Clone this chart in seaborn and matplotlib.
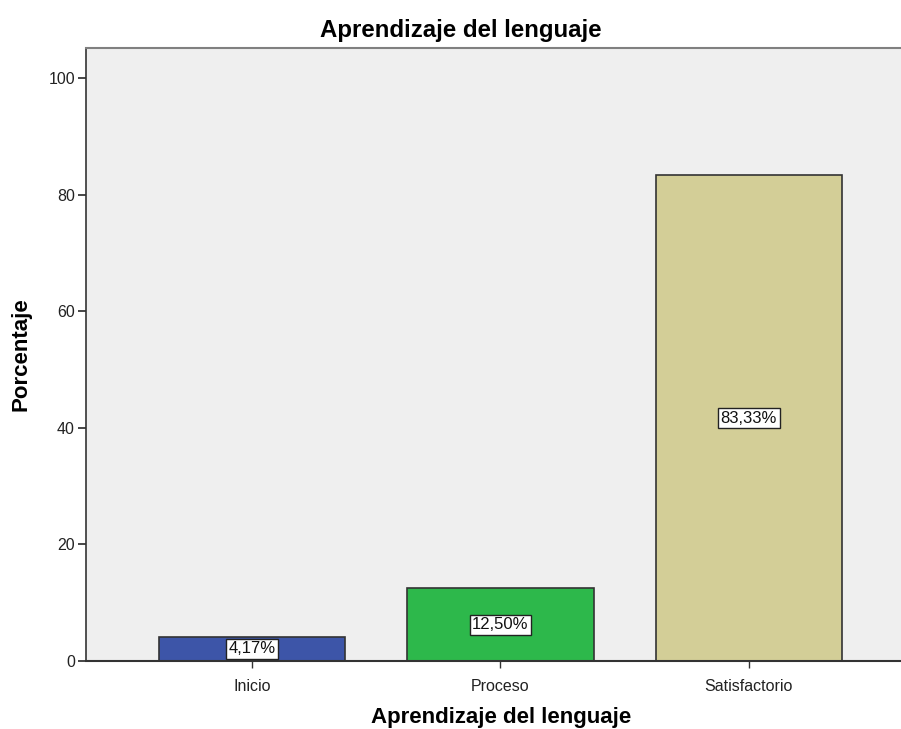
import matplotlib
matplotlib.use("Agg")
import matplotlib.pyplot as plt
import seaborn as sns
import pandas as pd

categories = ["Inicio", "Proceso", "Satisfactorio"]
values = [4.17, 12.50, 83.33]
labels = ["4,17%", "12,50%", "83,33%"]
colors = ["#3D55A8", "#2DB84B", "#D3CE97"]
yticks = [0, 20, 40, 60, 80, 100]

sns.set_theme(style="white")
plt.rcParams['font.family'] = ['Liberation Sans', 'DejaVu Sans']

df = pd.DataFrame({"cat": categories, "val": values})

fig = plt.figure(figsize=(9.01, 7.29), dpi=100)
ax = fig.add_axes([86/901, (729-661)/729, (901-86)/901, (661-48)/729])
ax.set_facecolor("#EFEFEF")

sns.barplot(data=df, x="cat", y="val", hue="cat", palette=colors, order=categories,
            width=0.75, edgecolor="#333333", linewidth=1.2, legend=False, ax=ax, saturation=1)

for i, (v, lab) in enumerate(zip(values, labels)):
    ax.text(i, v/2, lab, ha="center", va="center", fontsize=12, color="#111111",
            bbox=dict(boxstyle="square,pad=0.15", fc="white", ec="#222222", lw=1))

ax.set_xlim(-0.668, 2.612)
ax.set_ylim(0, 105.2)
ax.set_yticks(yticks)
ax.set_yticklabels([str(t) for t in yticks], fontsize=11.5, color="#222222")
ax.tick_params(axis="x", labelsize=11.5, colors="#333333", length=5, width=1, direction="out", bottom=True, pad=8)
ax.tick_params(axis="y", length=6, width=1.2, direction="out", left=True, pad=2)
for t in ax.get_xticklabels():
    t.set_color("#222222")

ax.spines["right"].set_visible(False)
ax.spines["left"].set_color("#333333")
ax.spines["left"].set_linewidth(1.2)
ax.spines["bottom"].set_color("#333333")
ax.spines["bottom"].set_linewidth(1.5)
ax.spines["top"].set_color("#808080")
ax.spines["top"].set_linewidth(1.5)

fig.text(461/901, 1 - 30/729, "Aprendizaje del lenguaje", fontsize=17.3, fontweight="bold",
         ha="center", va="center", color="#000000")
ax.set_xlabel("Aprendizaje del lenguaje", fontsize=16, fontweight="bold", color="#000000")
ax.xaxis.set_label_coords((501 - 86) / 815, -(718 - 661) / 613, transform=ax.transAxes)
ax.xaxis.label.set_va("center")
ax.set_ylabel("Porcentaje", fontsize=16, fontweight="bold", labelpad=12, color="#000000")

fig.savefig("out.png", dpi=100)
